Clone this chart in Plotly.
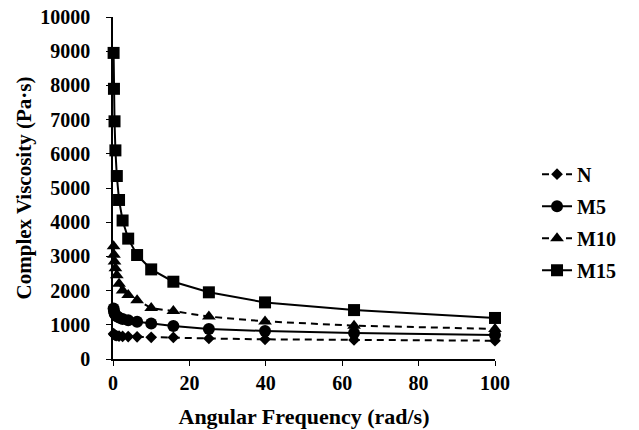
import plotly.graph_objects as go

freq = [0.158, 0.251, 0.398, 0.631, 1.0, 1.58, 2.51, 3.98, 6.31, 10.0, 15.8, 25.1, 39.8, 63.1, 100.0]
visc_N = [740, 720, 705, 690, 680, 670, 660, 655, 648, 634, 630, 600, 575, 555, 535]
visc_M5 = [1480, 1400, 1340, 1290, 1250, 1210, 1170, 1130, 1090, 1040, 965, 877, 820, 760, 700]
visc_M10 = [3300, 3050, 2850, 2650, 2450, 2200, 2000, 1870, 1720, 1490, 1400, 1240, 1100, 975, 880]
visc_M15 = [8950, 7900, 6950, 6100, 5350, 4650, 4050, 3520, 3040, 2620, 2260, 1950, 1655, 1430, 1200]

series = [
    ("N", visc_N, "dash", "diamond", 9),
    ("M5", visc_M5, "solid", "circle", 12),
    ("M10", visc_M10, "dash", "triangle-up", 12),
    ("M15", visc_M15, "solid", "square", 12),
]

font_family = "Liberation Serif"

fig = go.Figure()
for name, vals, dash, sym, size in series:
    fig.add_trace(go.Scatter(
        x=freq, y=vals, name=name, mode="lines+markers",
        line=dict(color="black", width=2, dash="7px,5px" if dash == "dash" else "solid"),
        marker=dict(symbol=sym, size=size, color="black"),
        cliponaxis=False, legendgroup=name,
    ))

fig.update_layout(
    width=639, height=430,
    margin=dict(l=113, r=144, t=17, b=71),
    paper_bgcolor="white", plot_bgcolor="white",
    font=dict(family=font_family, size=20, color="black", weight="bold"),
    showlegend=True,
    legend=dict(x=1.11, y=0.40, xanchor="left", yanchor="middle",
                font=dict(family=font_family, size=20, color="black", weight="bold"),
                tracegroupgap=3, bgcolor="rgba(0,0,0,0)"),
)
fig.update_xaxes(
    range=[0, 100], dtick=20, tick0=0, automargin=False,
    showline=True, linecolor="black", linewidth=1.5,
    ticks="outside", ticklen=5, tickcolor="black",
    showgrid=False, zeroline=False,
    tickfont=dict(family=font_family, size=20, color="black", weight="bold"),
    title=dict(text="Angular Frequency (rad/s)", font=dict(family=font_family, size=22, color="black", weight="bold"), standoff=16),
)
fig.update_yaxes(
    range=[0, 10000], dtick=1000, tick0=0, tickformat="d", automargin=False,
    showline=True, linecolor="black", linewidth=1.5,
    ticks="outside", ticklen=5, tickcolor="black", ticklabelstandoff=12,
    showgrid=False, zeroline=False,
    tickfont=dict(family=font_family, size=20, color="black", weight="bold"),
    title=dict(text="Complex Viscosity (Pa·s)", font=dict(family=font_family, size=21, color="black", weight="bold"), standoff=3),
)

fig.write_html("out.html")
